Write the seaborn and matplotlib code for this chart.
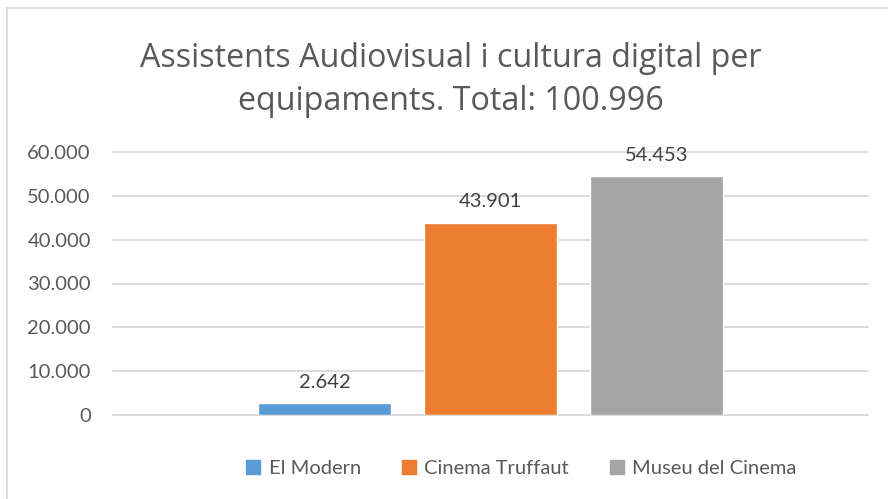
import matplotlib
matplotlib.use("Agg")
import matplotlib.pyplot as plt
from matplotlib.lines import Line2D
import pandas as pd
import seaborn as sns

equipaments = ["El Modern", "Cinema Truffaut", "Museu del Cinema"]
assistents = [2642, 43901, 54453]
colors = ["#5B9BD5", "#ED7D31", "#A5A5A5"]
yticks = [0, 10000, 20000, 30000, 40000, 50000, 60000]
title = "Assistents Audiovisual i cultura digital per\nequipaments. Total: 100.996"

def fmt(v):
    return f"{v:,.0f}".replace(",", ".")

df = pd.DataFrame({"cat": ["Total"] * 3, "equip": equipaments, "n": assistents})

sns.set_theme(style="white")
plt.rcParams['font.family'] = ['Lato', 'DejaVu Sans']
txt = "#595959"

fig = plt.figure(figsize=(8.88, 4.99), dpi=100)
ax = fig.add_axes([113/888, 1 - 415/499, (868-113)/888, (415-152)/499])

sns.barplot(data=df, x="cat", y="n", hue="equip", palette=colors,
            width=0.66, gap=0.2, ax=ax, legend=False, saturation=1)

ax.set_ylim(0, 60000)
ax.set_xlim(-0.5, 0.5)
ax.set_yticks(yticks)
ax.set_yticklabels([fmt(v) for v in yticks], fontsize=14.5, color=txt)
ax.set_xticks([])
ax.set_xlabel("")
ax.set_ylabel("")
ax.tick_params(axis="y", length=0, pad=16)
for s in ax.spines.values():
    s.set_visible(False)
ax.grid(axis="y", color="#D9D9D9", linewidth=1.3)
ax.set_axisbelow(True)
for gl in ax.get_ygridlines():
    gl.set_clip_on(False)

for cont, v in zip(ax.containers, assistents):
    ax.bar_label(cont, labels=[fmt(v)], padding=9, fontsize=14.5, color="#404040")

fig.text(451/888, 1 - 80/499, title, ha="center", va="center", fontsize=23.2,
         color=txt, family=["Open Sans", "DejaVu Sans"], linespacing=1.4)

handles = [Line2D([], [], marker="s", linestyle="", markersize=10,
                  markerfacecolor=c, markeredgecolor=c) for c in colors]
fig.legend(handles, equipaments, loc="center", bbox_to_anchor=(521/888, 1 - 468/499),
           ncol=3, frameon=False, fontsize=14.5, labelcolor=txt, handletextpad=0.35,
           columnspacing=2.0, handlelength=0.8)

# chart area border (top and left edges visible)
fig.add_artist(Line2D([7/888, 1], [1 - 8/499, 1 - 8/499], color="#D9D9D9", lw=1.3))
fig.add_artist(Line2D([7/888, 7/888], [0, 1 - 8/499], color="#D9D9D9", lw=1.3))

fig.savefig("out.png", dpi=100, facecolor="white")
